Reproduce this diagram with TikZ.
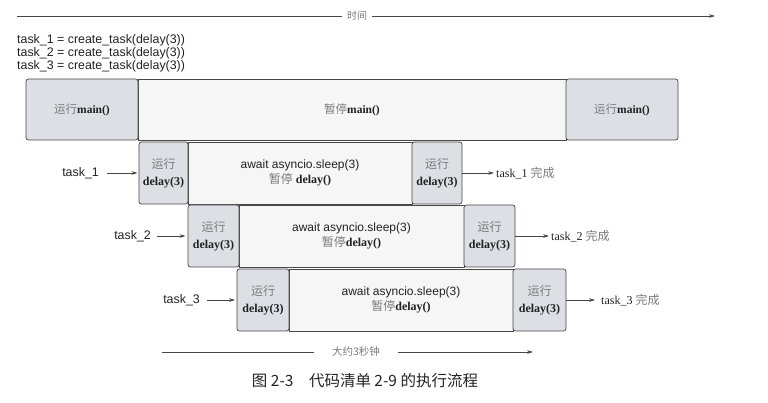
\documentclass[tikz,border=0pt]{standalone}
\usepackage{fontspec}
\setmainfont{Liberation Serif}
\setsansfont{Liberation Sans}
\newfontfamily\cjk{Noto Sans CJK SC}
\usetikzlibrary{arrows.meta}
\definecolor{runfill}{HTML}{DCDFE4}
\definecolor{pausefill}{HTML}{F6F6F6}
\definecolor{linec}{HTML}{474747}
\definecolor{cjkgray}{HTML}{7A7A7A}
\definecolor{txt}{HTML}{222222}
\newcommand{\zh}[1]{{\cjk\color{cjkgray}#1}}
\begin{document}
\begin{tikzpicture}[x=1pt,y=-1pt,
  box/.style={draw=linec, line width=0.7pt, inner sep=0pt, outer sep=0pt, anchor=north west, align=center, text=txt},
  runbox/.style={box, fill=runfill, rounded corners=2.5pt},
  pausebox/.style={box, fill=pausefill},
  rowh/.style={minimum height=62pt},
  runtxt/.style={font=\fontsize{12}{17}\selectfont},
  pausetxt/.style={font=\fontsize{12}{15}\selectfont},
  arr/.style={draw=linec, line width=0.6pt, -{Stealth[length=6pt,width=3.6pt]}},
  codetxt/.style={font=\sffamily\fontsize{12.4}{13}\selectfont, text=txt, inner sep=0pt},
  donetxt/.style={font=\fontsize{12}{14}\selectfont, text=txt, inner sep=0pt, anchor=west},
  timetxt/.style={fill=white, text=cjkgray, font=\cjk\fontsize{10}{12}\selectfont, inner ysep=2pt}
]
\useasboundingbox (0,0) rectangle (768,403);

% time arrow
\coordinate (ts) at (17,16);
\coordinate (te) at (715,16);
\draw[arr] (ts) -- (te);
\node[timetxt, inner xsep=5pt] (tl) at (357,16) {时间};

% code lines
\node[codetxt, anchor=west] (c1l) at (17,40) {task\_1 = create\_task(delay(3))};
\node[codetxt, anchor=west] (c2l) at (17,53) {task\_2 = create\_task(delay(3))};
\node[codetxt, anchor=west] (c3l) at (17,66) {task\_3 = create\_task(delay(3))};

% main row
\node[pausebox, minimum width=428pt, minimum height=61pt, font=\fontsize{11.5}{14}\selectfont] (m2) at (138,79) {\zh{暂停}\textbf{main()}};
\node[runbox, minimum width=112pt, minimum height=61pt, font=\fontsize{11.5}{14}\selectfont] (m1) at (26,79) {\zh{运行}\textbf{main()}};
\node[runbox, minimum width=112pt, minimum height=61pt, font=\fontsize{11.5}{14}\selectfont] (m3) at (566,79) {\zh{运行}\textbf{main()}};

% row 1
\node[pausebox, rowh, minimum width=224pt, pausetxt] (b1) at (188,142) {\sffamily await asyncio.sleep(3)\\\zh{暂停} \textbf{delay()}};
\node[runbox, rowh, minimum width=49pt, runtxt] (a1) at (139,142) {\zh{运行}\\\textbf{delay(3)}};
\node[runbox, rowh, minimum width=50pt, runtxt] (c1) at (412,142) {\zh{运行}\\\textbf{delay(3)}};

% row 2
\node[pausebox, rowh, minimum width=225pt, pausetxt] (b2) at (239,205) {\sffamily await asyncio.sleep(3)\\\zh{暂停}\textbf{delay()}};
\node[runbox, rowh, minimum width=51pt, runtxt] (a2) at (188,205) {\zh{运行}\\\textbf{delay(3)}};
\node[runbox, rowh, minimum width=51pt, runtxt] (c2) at (464,205) {\zh{运行}\\\textbf{delay(3)}};

% row 3
\node[pausebox, rowh, minimum width=224pt, pausetxt] (b3) at (289,269) {\sffamily await asyncio.sleep(3)\\\zh{暂停}\textbf{delay()}};
\node[runbox, rowh, minimum width=52pt, runtxt] (a3) at (237,269) {\zh{运行}\\\textbf{delay(3)}};
\node[runbox, rowh, minimum width=53pt, runtxt] (c3) at (513,269) {\zh{运行}\\\textbf{delay(3)}};

% task labels
\node[codetxt, anchor=east] (t1) at (99,173) {task\_1};
\node[codetxt, anchor=east] (t2) at (151,236) {task\_2};
\node[codetxt, anchor=east] (t3) at (200,300) {task\_3};
\draw[arr, shorten <=8pt, shorten >=1.5pt] (t1) -- (a1);
\draw[arr, shorten <=6pt, shorten >=2.5pt] (t2) -- (a2);
\draw[arr, shorten <=7pt, shorten >=2pt] (t3) -- (a3);

% done labels
\node[donetxt] (d1) at (496,173) {task\_1 \zh{完成}};
\node[donetxt] (d2) at (551,236) {task\_2 \zh{完成}};
\node[donetxt] (d3) at (601,300) {task\_3 \zh{完成}};
\draw[arr, shorten >=2pt] (c1) -- (d1);
\draw[arr, shorten >=2pt] (c2) -- (d2);
\draw[arr, shorten >=6pt] (c3) -- (d3);

% duration arrow
\coordinate (bs) at (162,352);
\coordinate (be) at (533,352);
\draw[arr] (bs) -- (be);
\node[timetxt, inner xsep=18pt, font=\cjk\fontsize{10.5}{12}\selectfont] (bl) at (356,352) {大约3秒钟};

% caption
\node[font=\cjk\fontsize{15.5}{17}\selectfont, text=txt, inner sep=0pt] (cap) at (365,381) {图 2-3\hspace{1em}代码清单 2-9 的执行流程};
\end{tikzpicture}
\end{document}
